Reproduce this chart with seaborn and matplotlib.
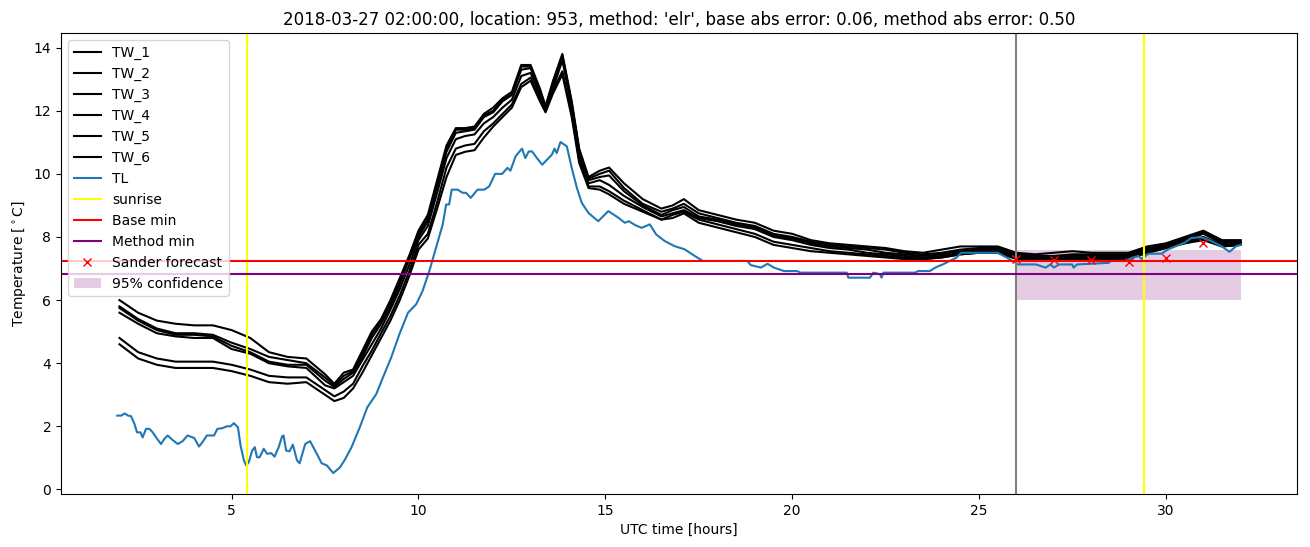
import seaborn as sns
import pandas as pd
import matplotlib
matplotlib.use("Agg")
import matplotlib.pyplot as plt

# hours since 00 UTC of the forecast day
tw_hours = [2, 2.5, 3, 3.5, 4, 4.5, 5, 5.5, 6, 6.5, 7, 7.5, 7.75, 8, 8.25, 8.5, 8.75,
            9, 9.25, 9.5, 9.75, 10, 10.25, 10.5, 10.75, 11, 11.25, 11.5, 11.75, 12,
            12.25, 12.5, 12.75, 13, 13.25, 13.4, 13.6, 13.85, 14.1, 14.3, 14.55, 14.85,
            15.1, 15.5, 16, 16.5, 16.8, 17.1, 17.5, 18, 18.5, 19, 19.5, 20, 20.5, 21,
            21.5, 22, 22.5, 23, 23.5, 24, 24.5, 25, 25.5, 26, 26.5, 27, 27.5, 28, 28.5,
            29, 29.5, 30, 30.5, 31, 31.5, 32]

tw_1 = [6.0, 5.6, 5.35, 5.25, 5.2, 5.2, 5.05, 4.8, 4.35, 4.2, 4.15, 3.65, 3.35, 3.7, 3.8, 4.4, 5.0,
        5.4, 6.0, 6.7, 7.4, 8.2, 8.7, 9.8, 10.9, 11.45, 11.45, 11.5, 11.9, 12.1,
        12.4, 12.6, 13.45, 13.45, 12.7, 12.15, 12.95, 13.8, 12.3, 10.8, 9.9, 10.1,
        10.2, 9.7, 9.2, 8.9, 9.0, 9.2, 8.85, 8.7, 8.55, 8.45, 8.2, 8.1, 7.9, 7.8,
        7.75, 7.7, 7.65, 7.55, 7.5, 7.6, 7.7, 7.7, 7.7, 7.5, 7.45, 7.5, 7.55, 7.5, 7.5,
        7.5, 7.7, 7.8, 8.0, 8.2, 7.9, 7.9]
tw_2 = [5.8, 5.4, 5.1, 4.95, 4.95, 4.9, 4.65, 4.45, 4.2, 4.1, 4.0, 3.55, 3.3, 3.6, 3.75, 4.3, 4.9,
        5.35, 5.9, 6.6, 7.35, 8.1, 8.6, 9.7, 10.8, 11.4, 11.4, 11.45, 11.85, 12.0,
        12.35, 12.55, 13.4, 13.4, 12.65, 12.1, 12.9, 13.75, 12.25, 10.75, 9.85, 10.0,
        10.1, 9.55, 9.05, 8.8, 8.9, 9.05, 8.75, 8.6, 8.45, 8.35, 8.1, 8.0, 7.85, 7.75,
        7.7, 7.65, 7.6, 7.5, 7.45, 7.5, 7.6, 7.65, 7.65, 7.45, 7.4, 7.4, 7.45, 7.45, 7.45,
        7.45, 7.65, 7.75, 7.95, 8.15, 7.85, 7.85]
tw_3 = [5.75, 5.35, 5.05, 4.9, 4.9, 4.85, 4.55, 4.35, 4.05, 3.95, 3.95, 3.45, 3.25, 3.5, 3.7, 4.2, 4.8,
        5.25, 5.8, 6.5, 7.3, 8.0, 8.5, 9.6, 10.7, 11.3, 11.35, 11.4, 11.8, 11.95,
        12.3, 12.5, 13.3, 13.35, 12.6, 12.1, 12.85, 13.7, 12.2, 10.7, 9.8, 9.9,
        9.95, 9.45, 9.0, 8.7, 8.85, 8.95, 8.65, 8.55, 8.4, 8.3, 8.05, 7.95, 7.8, 7.7,
        7.65, 7.6, 7.5, 7.45, 7.4, 7.45, 7.55, 7.6, 7.6, 7.4, 7.35, 7.35, 7.4, 7.4, 7.4,
        7.4, 7.6, 7.7, 7.9, 8.1, 7.8, 7.85]
tw_4 = [5.6, 5.25, 4.95, 4.85, 4.8, 4.8, 4.45, 4.3, 4.0, 3.9, 3.85, 3.3, 3.2, 3.4, 3.6, 4.1, 4.6,
        5.1, 5.7, 6.35, 7.1, 7.9, 8.35, 9.4, 10.5, 11.1, 11.2, 11.25, 11.6, 11.8,
        12.1, 12.35, 13.1, 13.2, 12.5, 12.05, 12.7, 13.6, 12.1, 10.6, 9.7, 9.8,
        9.65, 9.3, 8.95, 8.65, 8.75, 8.85, 8.6, 8.5, 8.35, 8.25, 8.0, 7.9, 7.75, 7.65,
        7.6, 7.5, 7.45, 7.4, 7.35, 7.4, 7.5, 7.55, 7.55, 7.35, 7.3, 7.3, 7.35, 7.35, 7.35,
        7.4, 7.55, 7.7, 7.85, 8.0, 7.75, 7.8]
tw_5 = [4.8, 4.35, 4.15, 4.05, 4.05, 4.05, 3.95, 3.8, 3.6, 3.55, 3.55, 3.15, 2.95, 3.1, 3.35, 3.9, 4.4,
        4.95, 5.5, 6.15, 6.9, 7.75, 8.1, 9.1, 10.2, 10.8, 10.9, 10.95, 11.35, 11.6,
        11.9, 12.2, 12.85, 13.05, 12.4, 12.0, 12.65, 13.25, 11.9, 10.45, 9.6, 9.6,
        9.45, 9.15, 8.85, 8.55, 8.7, 8.8, 8.55, 8.4, 8.25, 8.1, 7.85, 7.75, 7.65, 7.55,
        7.5, 7.45, 7.4, 7.35, 7.3, 7.35, 7.45, 7.5, 7.5, 7.35, 7.3, 7.3, 7.3, 7.3, 7.3,
        7.35, 7.5, 7.65, 7.8, 7.95, 7.7, 7.75]
tw_6 = [4.6, 4.15, 3.95, 3.85, 3.85, 3.85, 3.75, 3.6, 3.4, 3.35, 3.4, 3.0, 2.8, 2.9, 3.2, 3.7, 4.25,
        4.8, 5.35, 6.0, 6.75, 7.6, 7.95, 8.9, 9.9, 10.6, 10.7, 10.75, 11.15, 11.5,
        11.8, 12.1, 12.75, 12.95, 12.3, 11.95, 12.55, 13.15, 11.8, 10.35, 9.55, 9.5,
        9.35, 9.05, 8.8, 8.55, 8.6, 8.75, 8.45, 8.3, 8.15, 8.0, 7.75, 7.65, 7.55, 7.5,
        7.45, 7.4, 7.35, 7.3, 7.3, 7.35, 7.45, 7.5, 7.5, 7.3, 7.25, 7.25, 7.3, 7.25, 7.3,
        7.3, 7.5, 7.65, 7.8, 7.9, 7.7, 7.75]

tl_hours = [1.94, 2.05, 2.14, 2.23, 2.31, 2.4, 2.47, 2.56, 2.62, 2.71, 2.8, 2.89, 2.98,
            3.11, 3.2, 3.29, 3.42, 3.56, 3.69, 3.82, 4.0, 4.13, 4.22, 4.34, 4.53, 4.62,
            4.75, 4.87, 4.97, 5.06, 5.17, 5.24, 5.33, 5.39, 5.46, 5.55, 5.62, 5.68, 5.75,
            5.86, 5.95, 6.06, 6.15, 6.26, 6.35, 6.39, 6.46, 6.55, 6.64, 6.75, 6.82, 6.97,
            7.1, 7.28, 7.41, 7.55, 7.72, 7.9, 8.03, 8.21, 8.43, 8.63, 8.87, 9.05, 9.27,
            9.49, 9.72, 9.94, 10.11, 10.29, 10.47, 10.65, 10.74, 10.82, 10.89, 11.05,
            11.18, 11.27, 11.4, 11.58, 11.76, 11.89, 12.05, 12.24, 12.38, 12.46, 12.6,
            12.77, 12.86, 12.95, 13.04, 13.17, 13.31, 13.44, 13.57, 13.64, 13.7, 13.8,
            13.97, 14.1, 14.24, 14.37, 14.55, 14.81, 15.08, 15.35, 15.52, 15.63, 15.79,
            15.97, 16.19, 16.36, 16.59, 16.85, 17.12, 17.39, 17.61, 18.8, 18.89, 19.16,
            19.34, 19.51, 19.78, 20.13, 20.22, 21.46, 21.5, 22.08, 22.17, 22.35, 22.39,
            22.44, 23.28, 23.37, 23.68, 23.86, 24.03, 24.21, 24.39, 24.52, 25.5, 25.72,
            25.98, 26.03, 26.52, 26.78, 26.91, 27.0, 27.14, 27.49, 27.53, 27.62, 28.47,
            28.51, 28.91, 29.09, 29.26, 29.35, 29.53, 29.88, 30.06, 30.33, 30.5, 30.68,
            30.95, 31.21, 31.48, 31.7, 31.88, 32.0]
tl_temp = [2.34, 2.34, 2.41, 2.34, 2.32, 2.08, 1.81, 1.81, 1.65, 1.92, 1.92, 1.81, 1.65,
           1.44, 1.6, 1.71, 1.57, 1.44, 1.53, 1.71, 1.63, 1.36, 1.5, 1.71, 1.71, 1.92,
           1.94, 2.0, 2.0, 2.1, 1.97, 1.39, 0.92, 0.76, 0.86, 1.23, 1.34, 1.02, 1.02,
           1.29, 1.13, 1.15, 1.04, 1.34, 1.68, 1.71, 1.23, 1.21, 1.42, 0.92, 0.83, 1.44,
           1.53, 1.13, 0.83, 0.76, 0.52, 0.7, 0.94, 1.34, 1.97, 2.6, 3.02, 3.55, 4.18,
           4.92, 5.6, 5.87, 6.29, 6.92, 7.66, 8.4, 9.03, 9.03, 9.5, 9.5,
           9.4, 9.4, 9.24, 9.5, 9.5, 9.6, 10.0, 10.0, 10.19, 10.1, 10.56,
           10.8, 10.5, 10.71, 10.71, 10.5, 10.29, 10.45, 10.61, 10.8, 10.66, 11.01,
           10.87, 10.19, 9.55, 9.08, 8.76, 8.5, 8.82, 8.61, 8.45, 8.5, 8.38,
           8.29, 8.4, 8.08, 7.87, 7.71, 7.61, 7.4, 7.24, 7.24, 7.11, 7.03,
           7.15, 7.03, 6.92, 6.92, 6.87, 6.87, 6.71, 6.71, 6.87, 6.82, 6.71,
           6.87, 6.87, 6.92, 6.92, 7.05, 7.13, 7.24, 7.34, 7.5, 7.5, 7.36,
           7.18, 7.13, 7.13, 7.03, 7.13, 7.03, 7.13, 7.13, 7.03, 7.13, 7.18,
           7.24, 7.24, 7.34, 7.4, 7.3, 7.47, 7.47, 7.61, 7.74, 7.82, 7.97,
           7.99, 7.87, 7.71, 7.53, 7.71, 7.75]

sunrise_hours = [5.4, 29.4]
forecast_start = 26.0
base_min = 7.24
method_min = 6.82
sander_hours = [26, 27, 28, 29, 30, 31]
sander_temp = [7.3, 7.28, 7.28, 7.22, 7.34, 7.8]
conf_hours = [26, 32]
conf_low = [6.0, 6.0]
conf_high = [7.6, 7.6]

title = ("2018-03-27 02:00:00, location: 953, method: 'elr', "
         "base abs error: 0.06, method abs error: 0.50")


def main():
    fig, ax = plt.subplots(figsize=(13.1, 5.47), dpi=100)
    fig.subplots_adjust(left=0.0466, right=0.990, top=0.9397, bottom=0.0969)

    tw = [tw_1, tw_2, tw_3, tw_4, tw_5, tw_6]
    for i, vals in enumerate(tw):
        df = pd.DataFrame({"hour": tw_hours, "temp": vals})
        sns.lineplot(data=df, x="hour", y="temp", ax=ax, color="black",
                     label="TW_%d" % (i + 1), estimator=None, sort=False)

    tl = pd.DataFrame({"hour": tl_hours, "temp": tl_temp})
    sns.lineplot(data=tl, x="hour", y="temp", ax=ax, color="#1f77b4",
                 label="TL", estimator=None, sort=False)

    for j, h in enumerate(sunrise_hours):
        ax.axvline(h, color="yellow", label="sunrise" if j == 0 else None)
    ax.axvline(forecast_start, color="grey")
    ax.axhline(base_min, color="red", label="Base min")
    ax.axhline(method_min, color="purple", label="Method min")

    ax.plot(sander_hours, sander_temp, "x", color="red", label="Sander forecast")
    ax.fill_between(conf_hours, conf_low, conf_high, color="purple", alpha=0.2,
                    linewidth=0, label="95% confidence")

    ax.set_xlabel("UTC time [hours]")
    ax.set_ylabel("Temperature [$^\\circ$C]")
    ax.set_title(title)
    ax.legend(loc="upper left")

    fig.savefig("out.png", dpi=100)


if __name__ == "__main__":
    main()
